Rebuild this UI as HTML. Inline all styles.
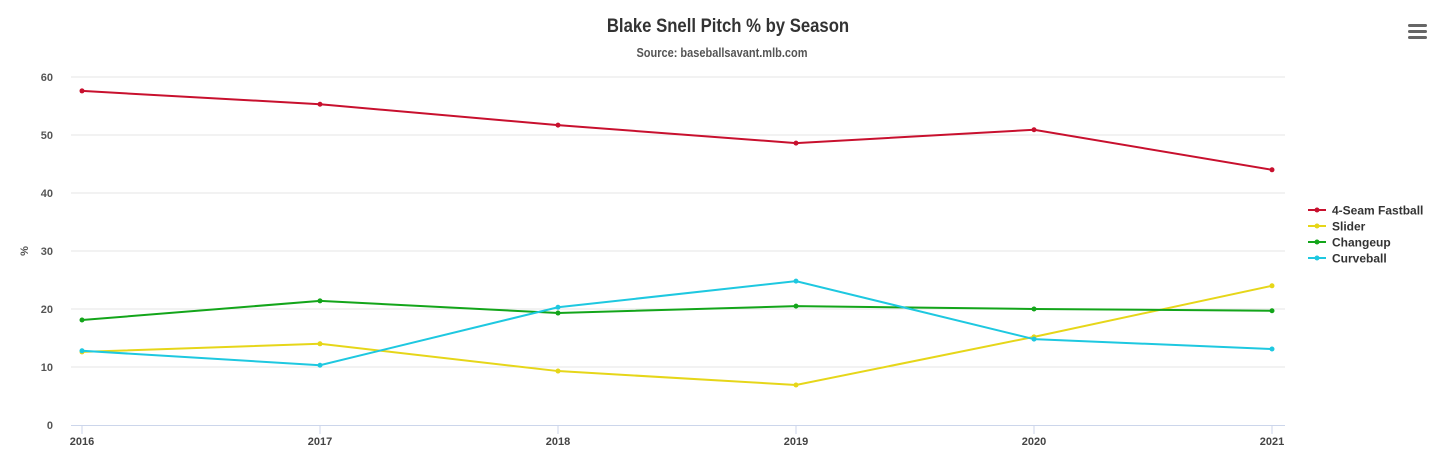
<!DOCTYPE html>
<html><head><meta charset="utf-8"><style>
body{margin:0;background:#fff;width:1456px;height:460px;overflow:hidden;font-family:"Liberation Sans",sans-serif}
svg text{font-family:"Liberation Sans",sans-serif;font-weight:bold}
</style></head><body>
<svg id="chart" width="1456" height="460" xmlns="http://www.w3.org/2000/svg">
<text x="728" y="32" text-anchor="middle" font-size="19" fill="#333" transform="translate(728 0) scale(0.88 1) translate(-728 0)">Blake Snell Pitch % by Season</text>
<text x="722" y="57" text-anchor="middle" font-size="12.5" fill="#555" transform="translate(722 0) scale(0.88 1) translate(-722 0)">Source: baseballsavant.mlb.com</text>
<g>
<rect x="1408" y="24" width="19" height="3" rx="1.5" fill="#666"/>
<rect x="1408" y="30" width="19" height="3" rx="1.5" fill="#666"/>
<rect x="1408" y="36" width="19" height="3" rx="1.5" fill="#666"/>
</g>
<text x="28" y="251" font-size="11" fill="#555" text-anchor="middle" transform="rotate(-90 28 251)">%</text>
<g id="grid"></g><g id="series"></g><g id="legend"></g>
</svg>
<script>
const categories=["2016","2017","2018","2019","2020","2021"];
const yTicks=[0,10,20,30,40,50,60];
const seriesNames=["4-Seam Fastball","Slider","Changeup","Curveball"];
const seriesColors=["#c8102e","#e6d619","#13a51a","#1ec8e0"];
const fastball=[57.6,55.3,51.7,48.6,50.9,44.0];
const slider=[12.6,14.0,9.3,6.9,15.2,24.0];
const changeup=[18.1,21.4,19.3,20.5,20.0,19.7];
const curveball=[12.8,10.3,20.3,24.8,14.8,13.1];
const seriesValues=[fastball,slider,changeup,curveball];
const NS="http://www.w3.org/2000/svg";
const x0=82,x1=1272,y0=425,y60=77;
const xs=i=>x0+(x1-x0)*i/(categories.length-1);
const ys=v=>y0-(y0-y60)*v/60;
function mk(t,a,p){const e=document.createElementNS(NS,t);for(const k in a)e.setAttribute(k,a[k]);p.appendChild(e);return e;}
const grid=document.getElementById('grid');
yTicks.forEach(v=>{
 if(v>0){const l=mk('line',{x1:71,x2:1285,y1:ys(v),y2:ys(v),stroke:'#e6e6e6'},grid);
 
 }
 const t=mk('text',{x:53,y:ys(v)+4,'text-anchor':'end','font-size':11,fill:'#555'},grid);t.textContent=v;
 
 
});
const ax=mk('line',{x1:71,x2:1285,y1:y0+0.5,y2:y0+0.5,stroke:'#ccd6eb'},grid);


categories.forEach((c,i)=>{
 const tk=mk('line',{x1:xs(i),x2:xs(i),y1:y0,y2:y0+9,stroke:'#ccd6eb'},grid);
 
 
 const t=mk('text',{x:xs(i),y:445,'text-anchor':'middle','font-size':11,fill:'#444'},grid);t.textContent=c;
 
 
});
const sg=document.getElementById('series');
seriesValues.forEach((vals,s)=>{
 const g=mk('g',{},sg);
 
 
 mk('polyline',{points:vals.map((v,i)=>xs(i)+','+ys(v)).join(' '),fill:'none',stroke:seriesColors[s],'stroke-width':2},g);
 vals.forEach((v,i)=>{const m=mk('circle',{cx:xs(i),cy:ys(v),r:2.5,fill:seriesColors[s]},g);
 
 });
});
const lg=document.getElementById('legend');
seriesNames.forEach((n,s)=>{
 const y=210+s*16;
 const g=mk('g',{},lg);
 
 
 mk('line',{x1:1308,x2:1326,y1:y,y2:y,stroke:seriesColors[s],'stroke-width':2},g);
 mk('circle',{cx:1317,cy:y,r:2.5,fill:seriesColors[s]},g);
 const t=mk('text',{x:1332,y:y+4.5,'font-size':12,fill:'#333'},g);t.textContent=n;
});
</script>
</body></html>
